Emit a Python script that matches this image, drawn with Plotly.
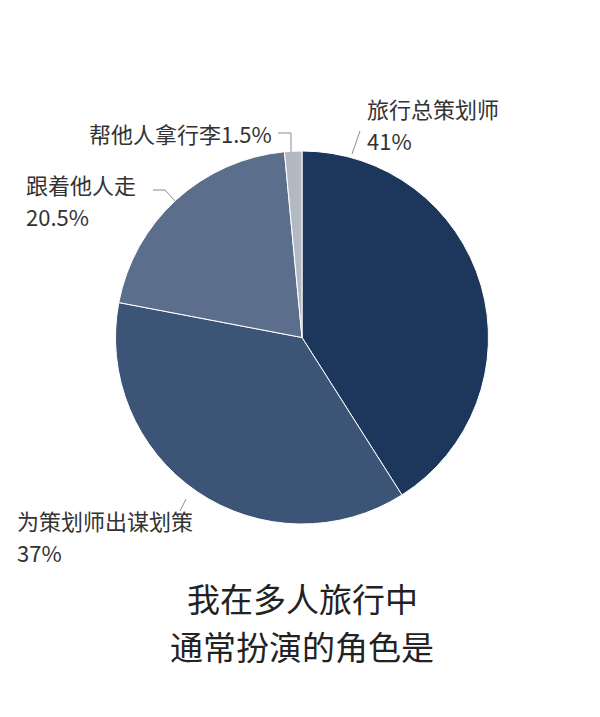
import plotly.graph_objects as go

roles = ["旅行总策划师", "为策划师出谋划策", "跟着他人走", "帮他人拿行李"]
shares = [41, 37, 20.5, 1.5]
colors = ["#1c365c", "#3c5576", "#5b6f8c", "#b3b9c3"]
title_lines = ["我在多人旅行中", "通常扮演的角色是"]

W, H = 600, 717
OFF = 8  # page body margin


def px(x, y):
    # screen pixel position -> paper coordinates
    return (x - OFF) / W, 1 - (y - OFF) / H


fig = go.Figure()
x0, y0 = px(115, 524)
x1, y1 = px(489, 151)
fig.add_trace(go.Pie(labels=roles, values=shares, sort=False,
                     direction="clockwise", rotation=0,
                     marker=dict(colors=colors,
                                 line=dict(color="white", width=1)),
                     textinfo="none", hoverinfo="label+percent",
                     showlegend=False,
                     domain=dict(x=[x0, x1], y=[y0, y1])))

# label placement: name (x, y), percent (x, y) or None, anchor
label_pos = [((365, 108), (365, 140), "left"),
             ((15, 520), (15, 552), "left"),
             ((24, 184), (24, 216), "left"),
             ((274, 133), None, "right")]
leaders = [[(352, 154), (360, 131)],
           [(186, 499), (180, 511)],
           [(153, 190), (165, 190), (175, 201)],
           [(278, 133), (291, 133), (291, 152)]]

font = "Noto Sans CJK SC, Microsoft YaHei, sans-serif"
lab_font = dict(family=font, size=22, color="#333333")
for name, v, (p_name, p_pct, anchor), pts in zip(roles, shares, label_pos,
                                                 leaders):
    pct = f"{v:g}%"
    if p_pct is None:
        parts = [(name + pct, p_name)]
    else:
        parts = [(name, p_name), (pct, p_pct)]
    for txt, (x, y) in parts:
        ax, ay = px(x, y)
        fig.add_annotation(x=ax, y=ay, xref="paper", yref="paper",
                           text=txt, showarrow=False,
                           xanchor=anchor, yanchor="middle",
                           font=lab_font)
    path = "M " + " L ".join(f"{px(a, b)[0]},{px(a, b)[1]}" for a, b in pts)
    fig.add_shape(type="path", path=path, xref="paper", yref="paper",
                  line=dict(color="#8c8c8c", width=1))

for line, y in zip(title_lines, [598, 646]):
    fig.add_annotation(x=px(302, 0)[0], y=px(0, y)[1], xref="paper",
                       yref="paper", text=line, showarrow=False,
                       xanchor="center", yanchor="middle",
                       font=dict(family=font, size=33, color="#222222"))

fig.update_layout(width=W, height=H, margin=dict(l=0, r=0, t=0, b=0),
                  paper_bgcolor="white", plot_bgcolor="white")
fig.write_html("out.html")
